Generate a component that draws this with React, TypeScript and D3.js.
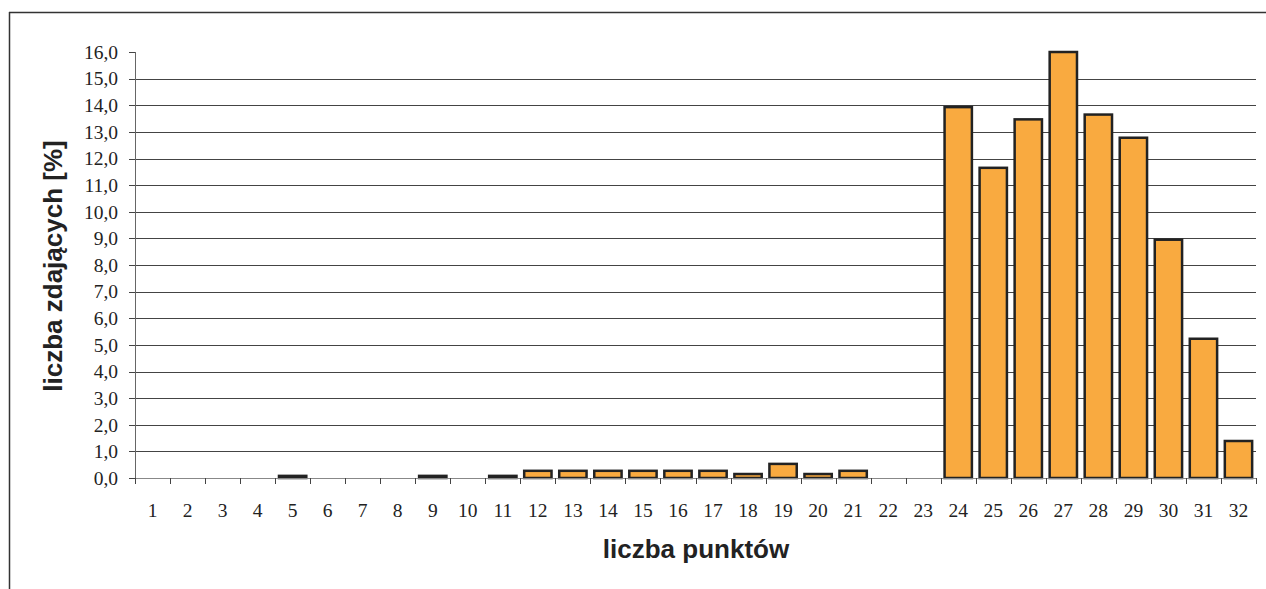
import React from "react";
import * as d3 from "d3";

const categories: number[] = Array.from({ length: 32 }, (_, i) => i + 1);
const values: number[] = [
  0, 0, 0, 0, 0.08, 0, 0, 0, 0.08, 0, 0.08, 0.27, 0.27, 0.27, 0.27, 0.27,
  0.27, 0.15, 0.53, 0.15, 0.27, 0, 0, 13.93, 11.65, 13.47, 16.0, 13.65, 12.78,
  8.95, 5.23, 1.39,
];
const yTicks: number[] = d3.range(0, 17, 1);

const W = 1266;
const H = 589;
const left = 135;
const right = 1256;
const top = 52;
const bottom = 478;

const SERIF = "Liberation Serif, Times New Roman, Times, serif";
const SANS = "Liberation Sans, Arial, Helvetica, sans-serif";

export default function App() {
  const x = d3
    .scaleBand<number>()
    .domain(categories)
    .range([left, right])
    .paddingInner(0.22)
    .paddingOuter(0.11);
  const xOuter = d3.scaleBand<number>().domain(categories).range([left, right]);
  const y = d3.scaleLinear().domain([0, 16]).range([bottom, top]);
  const fmt = (v: number) => v.toFixed(1).replace(".", ",");

  return (
    <svg
      width={W}
      height={H}
      style={{ position: "absolute", left: 0, top: 0, background: "#fff" }}
    >
      <line x1={9} y1={12.5} x2={W} y2={12.5} stroke="#333" strokeWidth={1.5} />
      <line x1={9.5} y1={12} x2={9.5} y2={H} stroke="#333" strokeWidth={1.5} />

      {yTicks
        .filter((t) => t > 0 && t < 16)
        .map((t) => (
          <line
            key={"g" + t}
            x1={left}
            x2={right}
            y1={Math.round(y(t)) + 0.5}
            y2={Math.round(y(t)) + 0.5}
            stroke="#444"
            strokeWidth={1}
          />
        ))}

      <line x1={left + 0.5} x2={left + 0.5} y1={top} y2={bottom} stroke="#666" strokeWidth={1} />
      {yTicks.map((t) => (
        <g key={"yt" + t}>
          <line
            x1={left - 6}
            x2={left}
            y1={Math.round(y(t)) + 0.5}
            y2={Math.round(y(t)) + 0.5}
            stroke="#444"
          />
          <text
            x={118}
            y={y(t)}
            dy="0.35em"
            textAnchor="end"
            style={{ fontFamily: SERIF, fontSize: "19.5px" }}
            fill="#222"
          >
            {fmt(t)}
          </text>
        </g>
      ))}

      {categories.map((c, i) =>
        values[i] > 0 ? (
          <rect
            key={"b" + c}
            x={x(c)}
            y={y(values[i])}
            width={x.bandwidth()}
            height={bottom - y(values[i])}
            fill="#F9AA40"
            stroke="#222"
            strokeWidth={2.5}
          />
        ) : null
      )}

      <line x1={left} x2={right} y1={bottom + 0.5} y2={bottom + 0.5} stroke="#888" strokeWidth={1} />
      {categories.concat([33]).map((c, i) => {
        const xx = left + i * xOuter.bandwidth();
        return (
          <line
            key={"xt" + i}
            x1={Math.round(xx) + 0.5}
            x2={Math.round(xx) + 0.5}
            y1={bottom}
            y2={bottom + 6}
            stroke="#444"
          />
        );
      })}
      {categories.map((c) => (
        <text
          key={"xl" + c}
          x={(xOuter(c) as number) + xOuter.bandwidth() / 2}
          y={517}
          textAnchor="middle"
          style={{ fontFamily: SERIF, fontSize: "19.5px" }}
          fill="#222"
        >
          {c}
        </text>
      ))}

      <text
        x={696}
        y={558}
        textAnchor="middle"
        style={{ fontFamily: SANS, fontSize: "26px", fontWeight: "bold" }}
        fill="#222"
      >
        liczba punktów
      </text>
      <text
        transform={`translate(62, ${266}) rotate(-90)`}
        textAnchor="middle"
        style={{ fontFamily: SANS, fontSize: "26px", fontWeight: "bold" }}
        fill="#222"
      >
        liczba zdających [%]
      </text>
    </svg>
  );
}
